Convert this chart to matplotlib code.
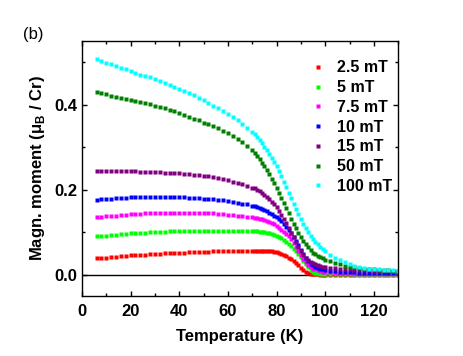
import matplotlib
matplotlib.use('Agg')
import matplotlib.pyplot as plt
from matplotlib.ticker import MultipleLocator, FormatStrFormatter

plt.rcParams['font.family'] = 'Liberation Sans'
plt.rcParams['font.weight'] = 'bold'
plt.rcParams['mathtext.fontset'] = 'custom'
plt.rcParams['mathtext.rm'] = 'Liberation Sans:bold'
plt.rcParams['mathtext.bf'] = 'Liberation Sans:bold'

# temperature grid (K)
temps = [6, 8, 10, 12, 14, 16, 18, 20, 22, 24, 26, 28, 30, 32, 34, 36, 38, 40, 42, 44,
         46, 48, 50, 52, 54, 56, 58, 60, 62, 64, 66, 68, 70,
         71, 72, 73, 74, 75, 76, 77, 78, 79, 80, 81, 82, 83, 84, 85, 86, 87, 88, 89, 90,
         91, 92, 93, 94, 95, 96, 97, 98, 99, 100,
         102, 104, 106, 108, 110, 112, 114, 116, 118, 120, 122, 124, 126, 128, 130]

m_2p5 = [0.038, 0.039, 0.040, 0.041, 0.042, 0.043, 0.044, 0.045, 0.046, 0.047, 0.047, 0.048, 0.049, 0.049, 0.050, 0.051, 0.051, 0.052, 0.052, 0.053,
         0.053, 0.054, 0.054, 0.054, 0.055, 0.055, 0.055, 0.055, 0.056, 0.056, 0.056, 0.056, 0.056,
         0.056, 0.056, 0.056, 0.056, 0.056, 0.056, 0.055, 0.055, 0.054, 0.053, 0.051, 0.049, 0.046, 0.043, 0.040, 0.036, 0.032, 0.027, 0.022, 0.016,
         0.010, 0.005, 0.003, 0.002, 0.001, 0.001, 0.001, 0.000, 0.000, 0.000,
         0.000, 0.000, 0.000, 0.000, 0.000, 0.000, 0.000, 0.000, 0.000, 0.000, 0.000, 0.000, 0.000, 0.000, 0.000]

m_5 = [0.090, 0.091, 0.092, 0.093, 0.094, 0.095, 0.096, 0.097, 0.098, 0.099, 0.099, 0.100, 0.100, 0.101, 0.101, 0.102, 0.102, 0.102, 0.103, 0.103,
       0.103, 0.103, 0.103, 0.103, 0.103, 0.103, 0.103, 0.103, 0.103, 0.102, 0.102, 0.102, 0.102,
       0.102, 0.102, 0.101, 0.101, 0.100, 0.099, 0.098, 0.096, 0.094, 0.091, 0.088, 0.085, 0.081, 0.077, 0.072, 0.067, 0.061, 0.055, 0.048, 0.041,
       0.033, 0.025, 0.017, 0.011, 0.007, 0.004, 0.003, 0.002, 0.002, 0.001,
       0.001, 0.001, 0.001, 0.001, 0.001, 0.000, 0.000, 0.000, 0.000, 0.000, 0.000, 0.000, 0.000, 0.000, 0.000]

m_7p5 = [0.135, 0.136, 0.137, 0.138, 0.139, 0.140, 0.141, 0.142, 0.143, 0.143, 0.144, 0.144, 0.145, 0.145, 0.145, 0.146, 0.146, 0.146, 0.146, 0.146,
         0.146, 0.145, 0.145, 0.145, 0.144, 0.143, 0.142, 0.141, 0.140, 0.139, 0.138, 0.136, 0.135,
         0.134, 0.133, 0.132, 0.130, 0.128, 0.126, 0.124, 0.121, 0.118, 0.114, 0.110, 0.106, 0.101, 0.096, 0.090, 0.083, 0.075, 0.066, 0.056, 0.046,
         0.037, 0.029, 0.023, 0.018, 0.014, 0.012, 0.010, 0.008, 0.007, 0.006,
         0.005, 0.004, 0.004, 0.003, 0.003, 0.002, 0.002, 0.002, 0.002, 0.002, 0.002, 0.002, 0.002, 0.002, 0.002]

m_10 = [0.176, 0.177, 0.178, 0.179, 0.180, 0.181, 0.181, 0.182, 0.182, 0.183, 0.183, 0.183, 0.183, 0.183, 0.183, 0.183, 0.183, 0.182, 0.182, 0.181,
        0.181, 0.180, 0.179, 0.178, 0.177, 0.176, 0.175, 0.173, 0.171, 0.169, 0.167, 0.165, 0.162,
        0.161, 0.159, 0.157, 0.155, 0.152, 0.149, 0.146, 0.143, 0.139, 0.135, 0.130, 0.125, 0.119, 0.113, 0.106, 0.098, 0.089, 0.080, 0.069, 0.058,
        0.048, 0.039, 0.032, 0.026, 0.022, 0.019, 0.016, 0.014, 0.012, 0.011,
        0.009, 0.008, 0.007, 0.006, 0.005, 0.005, 0.004, 0.004, 0.004, 0.003, 0.003, 0.003, 0.003, 0.003, 0.003]

m_15 = [0.243, 0.243, 0.243, 0.243, 0.243, 0.243, 0.243, 0.243, 0.243, 0.242, 0.242, 0.242, 0.241, 0.241, 0.240, 0.240, 0.239, 0.238, 0.237, 0.236,
        0.235, 0.234, 0.233, 0.231, 0.229, 0.227, 0.225, 0.222, 0.219, 0.216, 0.213, 0.209, 0.205,
        0.203, 0.200, 0.196, 0.192, 0.188, 0.183, 0.178, 0.172, 0.165, 0.158, 0.150, 0.141, 0.131, 0.121, 0.110, 0.099, 0.088, 0.077, 0.066, 0.056,
        0.047, 0.040, 0.034, 0.030, 0.027, 0.024, 0.022, 0.021, 0.019, 0.018,
        0.016, 0.015, 0.014, 0.013, 0.012, 0.011, 0.011, 0.010, 0.010, 0.009, 0.009, 0.008, 0.008, 0.008, 0.007]

m_50 = [0.429, 0.427, 0.424, 0.421, 0.419, 0.416, 0.413, 0.411, 0.408, 0.406, 0.403, 0.401, 0.398, 0.395, 0.391, 0.388, 0.384, 0.380, 0.376, 0.372,
        0.367, 0.363, 0.358, 0.354, 0.349, 0.344, 0.338, 0.333, 0.326, 0.320, 0.313, 0.303, 0.293,
        0.286, 0.279, 0.271, 0.263, 0.255, 0.246, 0.236, 0.226, 0.215, 0.204, 0.192, 0.180, 0.168, 0.156, 0.144, 0.132, 0.120, 0.109, 0.098, 0.088,
        0.079, 0.071, 0.064, 0.058, 0.052, 0.048, 0.044, 0.041, 0.038, 0.035,
        0.031, 0.027, 0.024, 0.021, 0.019, 0.017, 0.015, 0.014, 0.013, 0.012, 0.011, 0.010, 0.010, 0.009, 0.009]

m_100 = [0.507, 0.503, 0.499, 0.495, 0.490, 0.487, 0.483, 0.479, 0.475, 0.471, 0.468, 0.464, 0.460, 0.455, 0.451, 0.447, 0.442, 0.437, 0.432, 0.427,
         0.422, 0.416, 0.410, 0.404, 0.398, 0.392, 0.385, 0.378, 0.371, 0.363, 0.355, 0.346, 0.336,
         0.330, 0.323, 0.316, 0.309, 0.301, 0.293, 0.284, 0.275, 0.265, 0.255, 0.244, 0.232, 0.219, 0.206, 0.193, 0.180, 0.167, 0.154, 0.142, 0.130,
         0.119, 0.109, 0.100, 0.092, 0.084, 0.077, 0.071, 0.065, 0.060, 0.055,
         0.047, 0.040, 0.034, 0.029, 0.025, 0.021, 0.018, 0.016, 0.014, 0.013, 0.012, 0.011, 0.010, 0.010, 0.009]

series = [m_2p5, m_5, m_7p5, m_10, m_15, m_50, m_100]
labels = ['2.5 mT', '5 mT', '7.5 mT', '10 mT', '15 mT', '50 mT', '100 mT']
colors = ['#FF0000', '#00FF00', '#FF00FF', '#0000FF', '#800080', '#008000', '#00FFFF']

fig = plt.figure(figsize=(4.63, 3.56), dpi=100)
ax = fig.add_axes([0.177, 0.169, 0.683, 0.716])

ax.axhline(0, color='black', lw=1.0, zorder=1)
for m, lab, c in zip(series, labels, colors):
    ax.plot(temps, m, 's', ms=2.8, color=c, mec='none', label=lab, zorder=2)

ax.set_xlim(0, 130)
ax.set_ylim(-0.05, 0.55)
ax.xaxis.set_major_locator(MultipleLocator(20))
ax.xaxis.set_minor_locator(MultipleLocator(10))
ax.yaxis.set_major_locator(MultipleLocator(0.2))
ax.yaxis.set_minor_locator(MultipleLocator(0.1))
ax.yaxis.set_major_formatter(FormatStrFormatter('%.1f'))
ax.tick_params(which='both', direction='in', top=True, right=True, labelsize=12, width=1.0)
ax.tick_params(which='major', length=3.6)
ax.tick_params(which='minor', length=2.4)
ax.tick_params(axis='x', pad=6)
ax.tick_params(axis='y', pad=3.5)
for s in ax.spines.values():
    s.set_linewidth(1.0)

ax.set_xlabel('Temperature (K)', fontsize=12, fontweight='bold', labelpad=7)
ax.set_ylabel('Magn. moment (μ$_\\mathrm{B}$ / Cr)', fontsize=12, fontweight='bold', labelpad=5)

leg = ax.legend(loc='upper left', bbox_to_anchor=(0.7215, 0.924), frameon=False,
                borderpad=0, borderaxespad=0, handlelength=1.0, handletextpad=0.7,
                labelspacing=0.3, prop={'size': 11.5, 'weight': 'bold'})

fig.text(23 / 463, 1 - 35 / 356, '(b)', fontsize=12, fontweight='normal', va='center')

fig.savefig('out.png', dpi=100)
